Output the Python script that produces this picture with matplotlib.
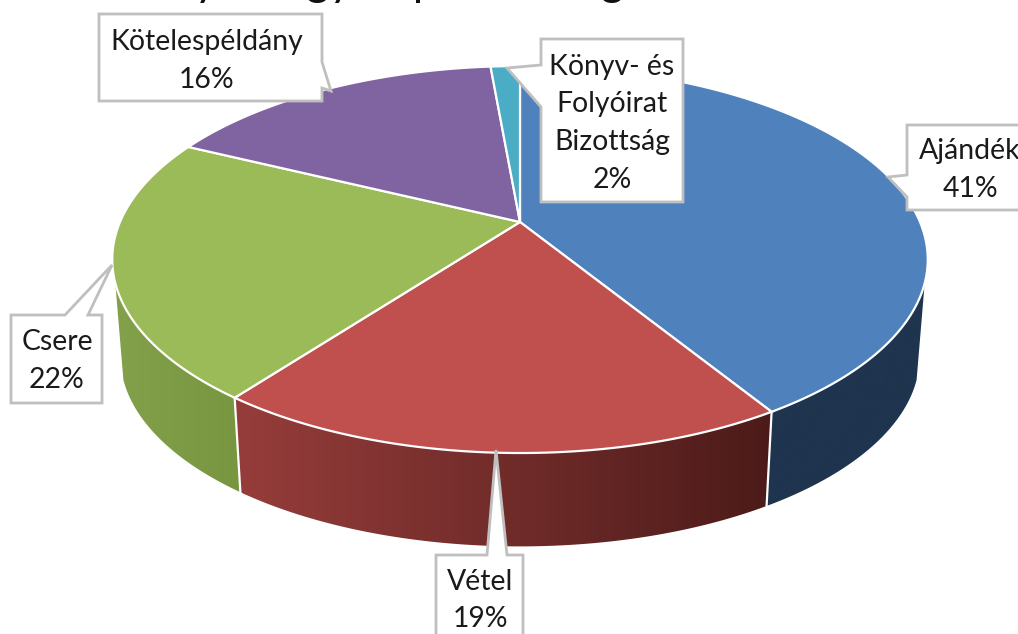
# -*- coding: utf-8 -*-
# 3D-s kordiagram perspektivaval, kezzel vetitve
import matplotlib; matplotlib.use("Agg")
import matplotlib.pyplot as plt
from matplotlib.colors import to_rgb
from matplotlib.patches import Polygon
import numpy as np

plt.rcParams["font.family"] = ["Lato", "DejaVu Sans"]

cats = ["Ajándék", "Vétel", "Csere", "Kötelespéldány", "Könyv- és\nFolyóirat\nBizottság"]
values = [41.2, 19.1, 21.9, 16.4, 1.4]
pct_labels = ["41%", "19%", "22%", "16%", "2%"]
top_colors = ["#4f81bd", "#c0504d", "#9bbb59", "#8064a2", "#4bacc6"]
wall_left = ["#1f344e", "#963d3b", "#83a04a", "#4d3c62", "#2d6777"]
wall_right = ["#1f344e", "#4c1b19", "#78963f", "#4d3c62", "#2d6777"]
title = "Könyvtár gyarapodás megoszlása"

# felso lap vetitese: kozeppont, sugarak, perspektiva
CX, CY, A, B, K = 520, 222, 400, 186.2, 0.194
DEPTH, SHRINK = 98, 0.98
# a fal csak ezen a szogtartomanyon latszik
FRONT = np.radians([108, 252])


def top_xy(theta):
    d = 1 + K * np.cos(theta)
    return CX + A * np.sin(theta) / d, CY - B * np.cos(theta) / d


def bottom_xy(theta):
    x, y = top_xy(theta)
    return CX + SHRINK * (x - CX), CY + SHRINK * (y - CY) + DEPTH


fig = plt.figure(figsize=(10.18, 6.34), dpi=100)
ax = fig.add_axes([0, 0, 1, 1])
ax.axis("off")

edges = np.cumsum([0] + values) / sum(values) * 2 * np.pi

# oldalfal, szinatmenet x szerint (a kep a fal alakjara vagva)
for i in range(len(values)):
    a0, a1 = max(edges[i], FRONT[0]), min(edges[i + 1], FRONT[1])
    if a0 >= a1:
        continue
    th = np.linspace(a0, a1, 200)
    tx, ty = top_xy(th); bx, by = bottom_xy(th)
    lo, hi = min(tx.min(), bx.min()), max(tx.max(), bx.max())
    c0, c1 = np.array(to_rgb(wall_left[i])), np.array(to_rgb(wall_right[i]))
    f = np.linspace(0, 1, 256)[None, :, None]
    shape = Polygon(np.c_[np.r_[tx, bx[::-1]], np.r_[ty, by[::-1]]], fc="none", ec="none")
    ax.add_patch(shape)
    # balrol jobbra: a kor itt jobbrol balra halad, ezert a szin x szerint megy
    im = ax.imshow(c0 + (c1 - c0) * f, extent=[lo, hi, 634, 0], aspect="auto",
                   interpolation="bilinear", zorder=1)
    im.set_clip_path(shape)

ax.set_xlim(0, 1018); ax.set_ylim(634, 0)

# elvalaszto vonalak a falon
for e in edges[1:3]:
    tx, ty = top_xy(e); bx, by = bottom_xy(e)
    ax.plot([tx, bx], [ty, by], color="white", lw=1.6, zorder=2)

# felso lap
for i in range(len(values)):
    th = np.linspace(edges[i], edges[i + 1], 200)
    tx, ty = top_xy(th)
    ax.fill(np.r_[CX, tx], np.r_[CY, ty], facecolor=top_colors[i], edgecolor="white",
            lw=1.6, joinstyle="miter", zorder=3)

# feliratok dobozai (bal, felso, jobb, also + a csucs pontjai)
BOX = dict(facecolor="white", edgecolor="#bfbfbf", lw=2, joinstyle="miter", zorder=5)
callouts = [
    [(907, 125), (1030, 125), (1030, 210), (907, 210), (907, 197), (888, 177), (907, 175)],
    [(436, 555), (487, 555), (496, 450), (507, 555), (523, 555), (523, 650), (436, 650)],
    [(11, 315), (65, 315), (112, 265), (88, 315), (102, 315), (102, 403), (11, 403)],
    [(99, 14), (322, 14), (322, 62), (331, 91), (322, 88), (322, 101), (99, 101)],
    [(541, 39), (683, 39), (683, 202), (541, 202), (541, 107), (507, 68), (541, 65)],
]
for pts in callouts:
    ax.fill(*zip(*pts), **BOX)

TXT = dict(ha="center", va="baseline", fontsize=20.4, color="#1a1a1a", zorder=6)
label_x = [970, 480, 57, 207, 612]
label_y = [[159, 197], [590, 627], [350, 388], [50, 88], [75, 112, 150, 188]]
for i, c in enumerate(cats):
    lines = c.split("\n") + [pct_labels[i]]
    for ln, y in zip(lines, label_y[i]):
        ax.text(label_x[i], y, ln, **TXT)

# a cim nagy resze lelog a kep tetejen
ax.text(439, -5, title, ha="center", va="baseline", fontsize=32, color="#111111", zorder=6)

fig.savefig("out.png", dpi=100)
